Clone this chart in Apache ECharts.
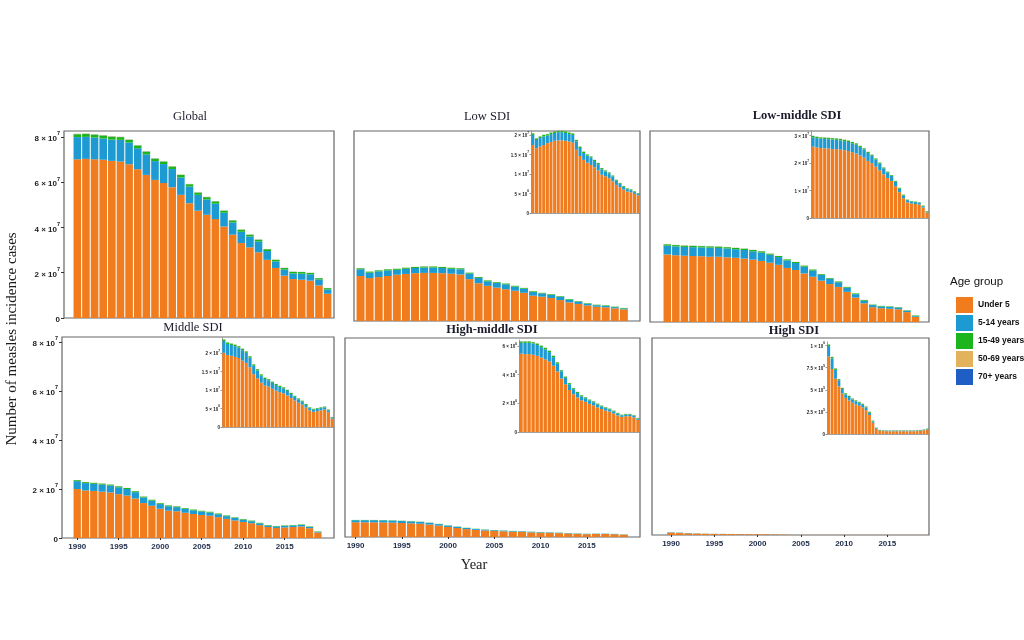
<!DOCTYPE html>
<html><head><meta charset="utf-8">
<script src="https://cdn.jsdelivr.net/npm/echarts@6/dist/echarts.min.js"></script>
<style>html,body{margin:0;padding:0;background:#fff}#c{width:1024px;height:640px}</style>
</head><body><div id="c"></div>
<script>
// ---------- data (values in millions of cases) ----------
const years = ['1990','1991','1992','1993','1994','1995','1996','1997','1998','1999','2000','2001','2002','2003','2004','2005','2006','2007','2008','2009','2010','2011','2012','2013','2014','2015','2016','2017','2018','2019'];
const labelYears = ['1990','1995','2000','2005','2010','2015'];
const ageGroups = ['Under 5','5-14 years','15-49 years','50-69 years','70+ years'];
const mainTickValues = [0,2e7,4e7,6e7,8e7];

const global_u5 = [70.1,70.3,70.1,69.9,69.4,69.1,67.9,65.7,63.2,61.0,59.6,57.8,54.4,50.7,47.4,45.6,43.7,40.4,36.8,33.1,31.2,29.0,25.7,22.1,18.7,17.2,16.9,16.5,14.4,10.7];
const global_5to14 = [9.8,9.7,9.6,9.4,9.4,9.6,9.6,9.3,9.1,8.3,8.4,8.0,7.7,7.4,7.0,6.8,6.8,6.1,5.4,5.0,4.8,4.8,3.9,2.9,2.7,2.5,2.7,2.8,2.6,1.9];
const global_15to49 = [1.3,1.3,1.3,1.3,1.3,1.2,1.2,1.2,1.2,1.1,1.1,1.1,1.1,1.0,1.0,1.0,1.0,0.9,0.9,0.9,0.8,0.8,0.8,0.7,0.7,0.7,0.7,0.6,0.6,0.6];
const global_50to69 = [0.12,0.12,0.12,0.12,0.12,0.11,0.11,0.11,0.11,0.10,0.10,0.10,0.10,0.09,0.09,0.09,0.09,0.08,0.08,0.08,0.07,0.07,0.07,0.06,0.06,0.06,0.06,0.05,0.05,0.05];
const global_70plus = [0.04,0.04,0.04,0.04,0.04,0.04,0.04,0.04,0.04,0.04,0.03,0.03,0.03,0.03,0.03,0.03,0.03,0.03,0.03,0.03,0.02,0.02,0.02,0.02,0.02,0.02,0.02,0.02,0.02,0.02];

const low_u5 = [17.4,16.6,17.0,17.4,17.9,18.2,18.5,18.6,18.6,18.5,18.3,18.0,16.2,14.6,13.6,12.9,12.3,11.7,10.9,9.8,9.4,8.9,8.1,7.2,6.6,6.0,5.5,5.3,4.9,4.5];
const low_5to14 = [2.6,2.1,2.2,2.2,1.9,2.0,2.0,2.1,2.1,2.0,1.9,2.0,2.15,2.05,1.75,1.8,1.9,1.6,1.6,1.4,1.25,1.25,1.25,1.05,0.9,0.7,0.6,0.55,0.45,0.35];
const low_15to49 = [0.4,0.4,0.4,0.4,0.4,0.4,0.4,0.4,0.4,0.4,0.4,0.4,0.35,0.35,0.35,0.3,0.3,0.3,0.3,0.3,0.25,0.25,0.25,0.25,0.2,0.2,0.2,0.2,0.2,0.2];
const low_50to69 = [0.04,0.04,0.04,0.04,0.04,0.04,0.04,0.04,0.04,0.04,0.04,0.04,0.03,0.03,0.03,0.03,0.03,0.03,0.03,0.03,0.02,0.02,0.02,0.02,0.02,0.02,0.02,0.02,0.02,0.02];
const low_70plus = [0.01,0.01,0.01,0.01,0.01,0.01,0.01,0.01,0.01,0.01,0.01,0.01,0.01,0.01,0.01,0.01,0.01,0.01,0.01,0.01,0.01,0.01,0.01,0.01,0.01,0.01,0.01,0.01,0.01,0.01];

const lowmid_u5 = [26.0,25.7,25.5,25.4,25.3,25.1,25.1,24.9,24.7,24.4,24.0,23.5,22.8,22.0,20.8,20.0,18.7,17.4,15.9,14.6,13.5,11.6,9.4,7.2,5.7,5.3,5.1,4.9,3.8,2.0];
const lowmid_5to14 = [3.4,3.4,3.4,3.4,3.4,3.5,3.4,3.4,3.3,3.3,3.2,3.2,3.1,3.0,2.9,2.7,2.6,2.4,2.2,2.0,1.8,1.6,1.3,1.0,0.8,0.7,0.7,0.6,0.5,0.3];
const lowmid_15to49 = [0.5,0.5,0.5,0.5,0.5,0.5,0.5,0.5,0.5,0.5,0.5,0.5,0.4,0.4,0.4,0.4,0.4,0.4,0.3,0.3,0.3,0.3,0.3,0.3,0.2,0.2,0.2,0.2,0.2,0.2];
const lowmid_50to69 = [0.05,0.05,0.05,0.05,0.05,0.05,0.05,0.05,0.05,0.05,0.05,0.05,0.04,0.04,0.04,0.04,0.04,0.04,0.03,0.03,0.03,0.03,0.03,0.03,0.02,0.02,0.02,0.02,0.02,0.02];
const lowmid_70plus = [0.02,0.02,0.02,0.02,0.02,0.02,0.02,0.02,0.02,0.02,0.02,0.02,0.01,0.01,0.01,0.01,0.01,0.01,0.01,0.01,0.01,0.01,0.01,0.01,0.01,0.01,0.01,0.01,0.01,0.01];

const mid_u5 = [20.0,19.4,19.2,18.9,18.6,17.9,17.3,16.1,14.25,13.15,11.95,11.15,10.9,10.3,9.8,9.4,9.1,8.5,7.8,7.15,6.55,6.05,5.25,4.5,4.1,4.3,4.5,4.7,4.0,2.25];
const mid_5to14 = [3.2,3.0,2.9,2.9,2.8,2.8,2.7,2.6,2.3,2.1,1.9,1.8,1.7,1.6,1.5,1.4,1.3,1.2,1.1,1.0,0.9,0.8,0.7,0.6,0.6,0.6,0.6,0.6,0.5,0.3];
const mid_15to49 = [0.4,0.4,0.4,0.4,0.4,0.4,0.4,0.4,0.35,0.35,0.35,0.35,0.3,0.3,0.3,0.3,0.3,0.3,0.3,0.25,0.25,0.25,0.25,0.2,0.2,0.2,0.2,0.2,0.2,0.15];
const mid_50to69 = [0.04,0.04,0.04,0.04,0.04,0.04,0.04,0.04,0.03,0.03,0.03,0.03,0.03,0.03,0.03,0.03,0.03,0.03,0.03,0.02,0.02,0.02,0.02,0.02,0.02,0.02,0.02,0.02,0.02,0.02];
const mid_70plus = [0.01,0.01,0.01,0.01,0.01,0.01,0.01,0.01,0.01,0.01,0.01,0.01,0.01,0.01,0.01,0.01,0.01,0.01,0.01,0.01,0.01,0.01,0.01,0.01,0.01,0.01,0.01,0.01,0.01,0.01];

const highmid_u5 = [5.45,5.42,5.42,5.37,5.3,5.18,5.05,4.91,4.61,4.21,3.72,3.32,2.92,2.63,2.41,2.21,2.1,1.96,1.86,1.71,1.6,1.49,1.42,1.29,1.15,1.05,1.1,1.1,1.02,0.85];
const highmid_5to14 = [0.75,0.78,0.78,0.78,0.75,0.72,0.7,0.65,0.6,0.55,0.5,0.45,0.4,0.35,0.3,0.27,0.25,0.23,0.21,0.2,0.18,0.17,0.15,0.14,0.12,0.11,0.11,0.11,0.1,0.08];
const highmid_15to49 = [0.1,0.1,0.1,0.1,0.1,0.1,0.1,0.09,0.09,0.09,0.08,0.08,0.08,0.07,0.07,0.07,0.06,0.06,0.06,0.06,0.05,0.05,0.05,0.05,0.05,0.04,0.04,0.04,0.04,0.04];
const highmid_50to69 = [0.01,0.01,0.01,0.01,0.01,0.01,0.01,0.01,0.01,0.01,0.01,0.01,0.01,0.01,0.01,0.01,0.01,0.01,0.01,0.01,0.01,0.01,0.01,0.01,0.01,0.01,0.01,0.01,0.01,0.01];
const highmid_70plus = [0.005,0.005,0.005,0.005,0.005,0.005,0.005,0.005,0.005,0.005,0.005,0.005,0.005,0.005,0.005,0.005,0.005,0.005,0.005,0.005,0.005,0.005,0.005,0.005,0.005,0.005,0.005,0.005,0.005,0.005];

const high_u5 = [0.875,0.735,0.625,0.538,0.458,0.408,0.378,0.355,0.335,0.32,0.30,0.27,0.215,0.127,0.057,0.036,0.033,0.031,0.031,0.031,0.031,0.031,0.031,0.031,0.031,0.031,0.033,0.036,0.041,0.05];
const high_5to14 = [0.12,0.12,0.10,0.07,0.05,0.04,0.04,0.035,0.035,0.03,0.03,0.03,0.025,0.015,0.008,0.005,0.005,0.005,0.005,0.005,0.005,0.005,0.005,0.005,0.005,0.005,0.005,0.005,0.005,0.006];
const high_15to49 = [0.015,0.015,0.015,0.012,0.012,0.012,0.012,0.01,0.01,0.01,0.01,0.01,0.01,0.008,0.005,0.004,0.004,0.004,0.004,0.004,0.004,0.004,0.004,0.004,0.004,0.004,0.004,0.004,0.004,0.004];
const high_50to69 = [0.002,0.002,0.002,0.002,0.002,0.002,0.002,0.002,0.002,0.002,0.002,0.002,0.002,0.001,0.001,0.001,0.001,0.001,0.001,0.001,0.001,0.001,0.001,0.001,0.001,0.001,0.001,0.001,0.001,0.001];
const high_70plus = [0.001,0.001,0.001,0.001,0.001,0.001,0.001,0.001,0.001,0.001,0.001,0.001,0.001,0.001,0.001,0.001,0.001,0.001,0.001,0.001,0.001,0.001,0.001,0.001,0.001,0.001,0.001,0.001,0.001,0.001];

// ---------- layout / styling ----------
const colors = ['#F07C1E','#1E9AD3','#1DB51D','#E2B25C','#1F5EC4'];
const panels = [
  {title:'Global', tx:190, ty:117, bold:false,
   values:[global_u5,global_5to14,global_15to49,global_50to69,global_70plus],
   frame:{left:64,top:131,width:270,height:187}, bars:{left:73.0,width:258.9}, yMax:8.26e7, yLabels:true, xLabels:false, inset:null},
  {title:'Low SDI', tx:487, ty:117, bold:false,
   values:[low_u5,low_5to14,low_15to49,low_50to69,low_70plus],
   frame:{left:354,top:131,width:286,height:190}, bars:{left:356.0,width:272.4}, yMax:7.35e7, yLabels:false, xLabels:false,
   inset:{left:531,top:131,width:109,height:82,yMax:2.1e7,ticks:[0,5e6,1e7,1.5e7,2e7]}},
  {title:'Low-middle SDI', tx:797, ty:116, bold:true,
   values:[lowmid_u5,lowmid_5to14,lowmid_15to49,lowmid_50to69,lowmid_70plus],
   frame:{left:650,top:131,width:279,height:191}, bars:{left:663.0,width:256.8}, yMax:7.35e7, yLabels:false, xLabels:false,
   inset:{left:811,top:131,width:118,height:87,yMax:3.17e7,ticks:[0,1e7,2e7,3e7]}},
  {title:'Middle SDI', tx:193, ty:328, bold:false,
   values:[mid_u5,mid_5to14,mid_15to49,mid_50to69,mid_70plus],
   frame:{left:62,top:337,width:272,height:201}, bars:{left:73.05,width:249}, yMax:8.2e7, yLabels:true, xLabels:true,
   inset:{left:222,top:338,width:112,height:89,yMax:2.4e7,ticks:[0,5e6,1e7,1.5e7,2e7]}},
  {title:'High-middle SDI', tx:492, ty:330, bold:true,
   values:[highmid_u5,highmid_5to14,highmid_15to49,highmid_50to69,highmid_70plus],
   frame:{left:345,top:338,width:295,height:199}, bars:{left:350.9,width:277.5}, yMax:7.35e7, yLabels:false, xLabels:true,
   inset:{left:519,top:340,width:121,height:92,yMax:6.4e6,ticks:[0,2e6,4e6,6e6]}},
  {title:'High SDI', tx:794, ty:331, bold:true,
   values:[high_u5,high_5to14,high_15to49,high_50to69,high_70plus],
   frame:{left:652,top:338,width:277,height:197}, bars:{left:666.7,width:259.5}, yMax:7.35e7, yLabels:false, xLabels:true,
   inset:{left:827,top:342,width:102,height:92,yMax:1.04e6,ticks:[0,2.5e5,5e5,7.5e5,1e6]}}
];

function sci(v){
  if (v === 0) return '{b|0}';
  const e = Math.floor(Math.log10(v) + 1e-9);
  const m = +(v / Math.pow(10, e)).toFixed(2);
  return '{b|' + m + ' \u00d7 10}{s|' + e + '}';
}
const richMain = {b:{fontSize:8,fontWeight:'bold',lineHeight:12,verticalAlign:'bottom',fontFamily:'Liberation Sans',color:'#222'},
                  s:{fontSize:5.5,fontWeight:'bold',lineHeight:6,verticalAlign:'top',fontFamily:'Liberation Sans',color:'#222'}};
const richInset = {b:{fontSize:4.5,fontWeight:'bold',lineHeight:7,verticalAlign:'bottom',fontFamily:'Liberation Sans',color:'#222'},
                   s:{fontSize:3.2,fontWeight:'bold',lineHeight:3.5,verticalAlign:'top',fontFamily:'Liberation Sans',color:'#222'}};
const showYear = (i, v) => labelYears.indexOf(v) >= 0;

const grids=[], xAxes=[], yAxes=[], series=[], graphics=[];
panels.forEach((p, pi) => {
  // frame with y-axis labels
  let gi = grids.length;
  const f = p.frame;
  grids.push({left:f.left, top:f.top, width:f.width, height:f.height, show:true, borderColor:'#666', borderWidth:1.2});
  xAxes.push({type:'category', gridIndex:gi, data:years, show:false});
  yAxes.push({type:'value', gridIndex:gi, min:0, max:p.yMax, splitLine:{show:false}, axisLine:{show:false},
    axisTick:{show:p.yLabels, customValues:mainTickValues, length:3, lineStyle:{color:'#333'}},
    axisLabel:{show:p.yLabels, customValues:mainTickValues, formatter:sci, rich:richMain, margin:4}});
  // bars of the main panel
  gi = grids.length;
  grids.push({left:p.bars.left, width:p.bars.width, top:f.top, height:f.height, show:false});
  xAxes.push({type:'category', gridIndex:gi, data:years, boundaryGap:true, axisLine:{show:false},
    axisTick:{show:p.xLabels, interval:showYear, alignWithLabel:true, length:2, lineStyle:{color:'#333'}},
    axisLabel:{show:p.xLabels, interval:showYear, fontSize:8, fontWeight:'bold', color:'#1c2a48', fontFamily:'Liberation Sans', margin:5}});
  yAxes.push({type:'value', gridIndex:gi, min:0, max:p.yMax, show:false});
  p.values.forEach((arr, k) => series.push({type:'bar', name:ageGroups[k], xAxisIndex:gi, yAxisIndex:gi, stack:'m'+pi,
    barCategoryGap:'12%', itemStyle:{color:colors[k]}, silent:true, data:arr.map(v => v*1e6)}));
  if (p.inset) {
    const ins = p.inset;
    gi = grids.length;
    grids.push({left:ins.left, top:ins.top, width:ins.width, height:ins.height, show:false});
    xAxes.push({type:'category', gridIndex:gi, data:years, boundaryGap:true,
      axisLine:{show:true, lineStyle:{color:'#888', width:0.8}}, axisTick:{show:false}, axisLabel:{show:false}});
    yAxes.push({type:'value', gridIndex:gi, min:0, max:ins.yMax, splitLine:{show:false},
      axisLine:{show:true, lineStyle:{color:'#888', width:0.8}},
      axisTick:{show:true, customValues:ins.ticks, length:1.5, lineStyle:{color:'#555', width:0.6}},
      axisLabel:{show:true, customValues:ins.ticks, formatter:sci, rich:richInset, margin:2}});
    p.values.forEach((arr, k) => series.push({type:'bar', name:ageGroups[k], xAxisIndex:gi, yAxisIndex:gi, stack:'i'+pi,
      barCategoryGap:'16%', itemStyle:{color:colors[k]}, silent:true, data:arr.map(v => v*1e6)}));
  }
  graphics.push({type:'text', x:p.tx, y:p.ty, style:{text:p.title, fontSize:12.5, fontWeight:p.bold?'bold':'normal',
    fontFamily:'Liberation Serif', fill:'#1a1a2a', align:'center', verticalAlign:'middle'}});
});

graphics.push({type:'text', x:12, y:339, rotation:Math.PI/2, style:{text:'Number of measles incidence cases', fontSize:15,
  fontFamily:'Liberation Serif', fill:'#1a1a1a', align:'center', verticalAlign:'middle'}});
graphics.push({type:'text', x:474, y:565, style:{text:'Year', fontSize:14.5, fontFamily:'Liberation Serif', fill:'#1a1a1a',
  align:'center', verticalAlign:'middle'}});
graphics.push({type:'text', x:950, y:282, style:{text:'Age group', fontSize:11.5, fontFamily:'Liberation Sans', fill:'#111',
  align:'left', verticalAlign:'middle'}});

const chart = echarts.init(document.getElementById('c'), null, {renderer:'canvas'});
chart.setOption({
  animation:false,
  backgroundColor:'#fff',
  grid:grids, xAxis:xAxes, yAxis:yAxes, series:series,
  legend:{data:ageGroups, orient:'vertical', left:951, top:292, itemWidth:17, itemHeight:16, itemGap:2, icon:'rect',
    selectedMode:false, textStyle:{fontSize:8.5, fontWeight:'bold', fontFamily:'Liberation Sans', color:'#111'}},
  graphic:graphics
});
</script></body></html>
